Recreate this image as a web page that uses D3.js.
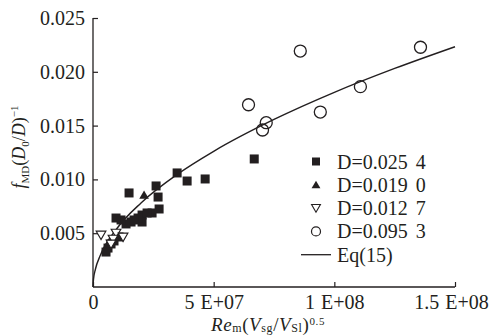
<!DOCTYPE html>
<html><head><meta charset="utf-8">
<script src="https://cdn.jsdelivr.net/npm/d3@7"></script>
<style>body{margin:0;background:#fff}svg{display:block}svg text{font-family:'Liberation Serif','Times New Roman','DejaVu Serif',serif !important;fill:#231f20}</style>
</head><body><svg id="c" width="497" height="335"></svg>
<script>
// D=0.0254 (filled squares)
const sqX = [3.486e7,3.900e7,4.647e7,2.614e7,2.697e7,2.739e7,2.448e7,2.033e7,2.033e7,1.494e7,6.681e7,1.867e7,1.577e7,1.369e7,1.162e7,0.954e7,1.079e7,0.871e7,0.747e7,0.622e7,0.539e7,2.241e7,1.701e7];
const sqY = [0.01060,0.00985,0.01004,0.00939,0.00836,0.00725,0.00688,0.00669,0.00604,0.00874,0.01190,0.00641,0.00604,0.00586,0.00623,0.00641,0.00465,0.00428,0.00400,0.00362,0.00325,0.00688,0.00623];
// D=0.0190 (filled up-triangles)
const triUpX = [2.116e7];
const triUpY = [0.00846];
// D=0.0127 (open down-triangles)
const triDnX = [3.32e6,9.54e6,1.245e7,8.30e6,7.47e6];
const triDnY = [0.00493,0.00511,0.00474,0.00455,0.00409];
// D=0.0953 (open circles)
const cirX = [8.589e7,6.444e7,7.178e7,7.025e7,9.419e7,1.108e8,1.357e8];
const cirY = [0.02193,0.01694,0.01527,0.01459,0.01626,0.01862,0.02228];
// Eq(15) curve
const eqX = [0,2e5,1e6,3e6,1e7,2e7,3.5e7,5e7,7.5e7,1e8,1.25e8,1.5e8];
const eqY = [0,0.00071,0.00165,0.00292,0.00546,0.00783,0.01048,0.01261,0.01557,0.01809,0.02031,0.02233];
// ticks
const xTicks = [0,5e7,1e8,1.5e8];
const xTickLabels = ["0","5 E+07","1 E+08","1.5 E+08"];
const yTicks = [0.005,0.010,0.015,0.020,0.025];
const yTickLabels = ["0.005","0.010","0.015","0.020","0.025"];
const legendLabels = ["D=0.025 4","D=0.019 0","D=0.012 7","D=0.095 3","Eq(15)"];

const FF = "'Liberation Serif','Times New Roman','DejaVu Serif',serif";
const svg = d3.select("#c").attr("font-family",FF);
const col = "#231f20";
const x = d3.scaleLinear().domain([0,1.5e8]).range([93,455]);
const y = d3.scaleLinear().domain([0,0.025]).range([287,18]);
const fs = 20;

// axes
const xAxis = d3.axisBottom(x).tickValues(xTicks).tickSize(-5).tickPadding(8).tickFormat((d,i)=>xTickLabels[i]);
const gx = svg.append("g").attr("transform","translate(0,287)").call(xAxis);
const yAxis = d3.axisLeft(y).tickValues(yTicks).tickSize(-5).tickPadding(9).tickFormat((d,i)=>yTickLabels[i]);
const gy = svg.append("g").attr("transform","translate(93,0)").call(yAxis);
[gx,gy].forEach(g=>{
  g.attr("font-family",FF).attr("font-size",fs);
  g.select(".domain").attr("stroke",col).attr("stroke-width",1.3).attr("d", g===gx ? "M93,0H455" : "M0,287V18");
  g.selectAll(".tick line").attr("stroke",col).attr("stroke-width",1.2);
  g.selectAll(".tick text").attr("font-size",fs).attr("font-family",FF).attr("fill",col).attr("word-spacing",1);
});
gx.selectAll(".tick text").attr("dy","0.68em").attr("dx",(d,i)=> i===3 ? -4 : 0);
gy.selectAll(".tick text").attr("dx",1);

// curve
const line = d3.line().x(d=>x(d[0])).y(d=>y(d[1])).curve(d3.curveMonotoneX);
svg.append("path").datum(eqX.map((v,i)=>[v,eqY[i]])).attr("d",line).attr("fill","none").attr("stroke",col).attr("stroke-width",1.4);

// markers
const sq = 9;
svg.append("g").selectAll("rect").data(sqX.map((v,i)=>[v,sqY[i]])).join("rect")
  .attr("x",d=>x(d[0])-sq/2).attr("y",d=>y(d[1])-sq/2).attr("width",sq).attr("height",sq).attr("fill",col);
const tri = d3.symbol().type(d3.symbolTriangle).size(40);
svg.append("g").selectAll("path").data(triUpX.map((v,i)=>[v,triUpY[i]])).join("path")
  .attr("d",tri).attr("transform",d=>`translate(${x(d[0])},${y(d[1])})`).attr("fill",col);
svg.append("g").selectAll("path").data(triDnX.map((v,i)=>[v,triDnY[i]])).join("path")
  .attr("d",tri).attr("transform",d=>`translate(${x(d[0])},${y(d[1])}) rotate(180)`).attr("fill","#fff").attr("stroke",col).attr("stroke-width",1.2);
svg.append("g").selectAll("circle").data(cirX.map((v,i)=>[v,cirY[i]])).join("circle")
  .attr("cx",d=>x(d[0])).attr("cy",d=>y(d[1])).attr("r",6).attr("fill","none").attr("stroke",col).attr("stroke-width",1.3);

// legend
const lg = svg.append("g");
const ly0 = 161.5, ldy = 23.3, lmx = 316, ltx = 337;
lg.append("rect").attr("x",lmx-4).attr("y",ly0-4).attr("width",8).attr("height",8).attr("fill",col);
lg.append("path").attr("d",d3.symbol().type(d3.symbolTriangle).size(34)).attr("transform",`translate(${lmx},${ly0+ldy+1})`).attr("fill",col);
lg.append("path").attr("d",d3.symbol().type(d3.symbolTriangle).size(34)).attr("transform",`translate(${lmx},${ly0+2*ldy-1}) rotate(180)`).attr("fill","none").attr("stroke",col).attr("stroke-width",1.1);
lg.append("circle").attr("cx",lmx).attr("cy",ly0+3*ldy).attr("r",4.5).attr("fill","none").attr("stroke",col).attr("stroke-width",1.2);
lg.append("line").attr("x1",301).attr("x2",331).attr("y1",ly0+4*ldy).attr("y2",ly0+4*ldy).attr("stroke",col).attr("stroke-width",1.3);
legendLabels.forEach((t,i)=>{
  lg.append("text").attr("x",ltx).attr("y",ly0+i*ldy).attr("dy","0.35em").attr("font-size",fs).attr("font-family",FF).attr("word-spacing",3).text(t);
});

// y title
const yt = svg.append("text").attr("transform","translate(25,147) rotate(-90)").attr("text-anchor","middle").attr("font-size",18).attr("font-family",FF);
yt.append("tspan").attr("font-style","italic").text("f");
yt.append("tspan").attr("font-size",11).attr("dy",4).text("MD");
yt.append("tspan").attr("dy",-4).text("(");
yt.append("tspan").attr("font-style","italic").text("D");
yt.append("tspan").attr("font-size",11).attr("dy",4).text("0");
yt.append("tspan").attr("dy",-4).text("/");
yt.append("tspan").attr("font-style","italic").text("D");
yt.append("tspan").text(")");
yt.append("tspan").attr("font-size",11).attr("dy",-7).text("\u22121");

// x title
const xt = svg.append("text").attr("x",268).attr("y",331).attr("text-anchor","middle").attr("font-size",19).attr("font-family",FF).attr("letter-spacing",0.6);
xt.append("tspan").attr("font-style","italic").text("Re");
xt.append("tspan").attr("font-size",12).attr("dy",1).text("m");
xt.append("tspan").attr("dy",-1).text("(");
xt.append("tspan").attr("font-style","italic").text("V");
xt.append("tspan").attr("font-size",12).attr("dy",1).text("sg");
xt.append("tspan").attr("dy",-1).text("/");
xt.append("tspan").attr("font-style","italic").text("V");
xt.append("tspan").attr("font-size",12).attr("dy",1).text("Sl");
xt.append("tspan").attr("dy",-1).text(")");
xt.append("tspan").attr("font-size",11).attr("dy",-6).text("0.5");
</script></body></html>
